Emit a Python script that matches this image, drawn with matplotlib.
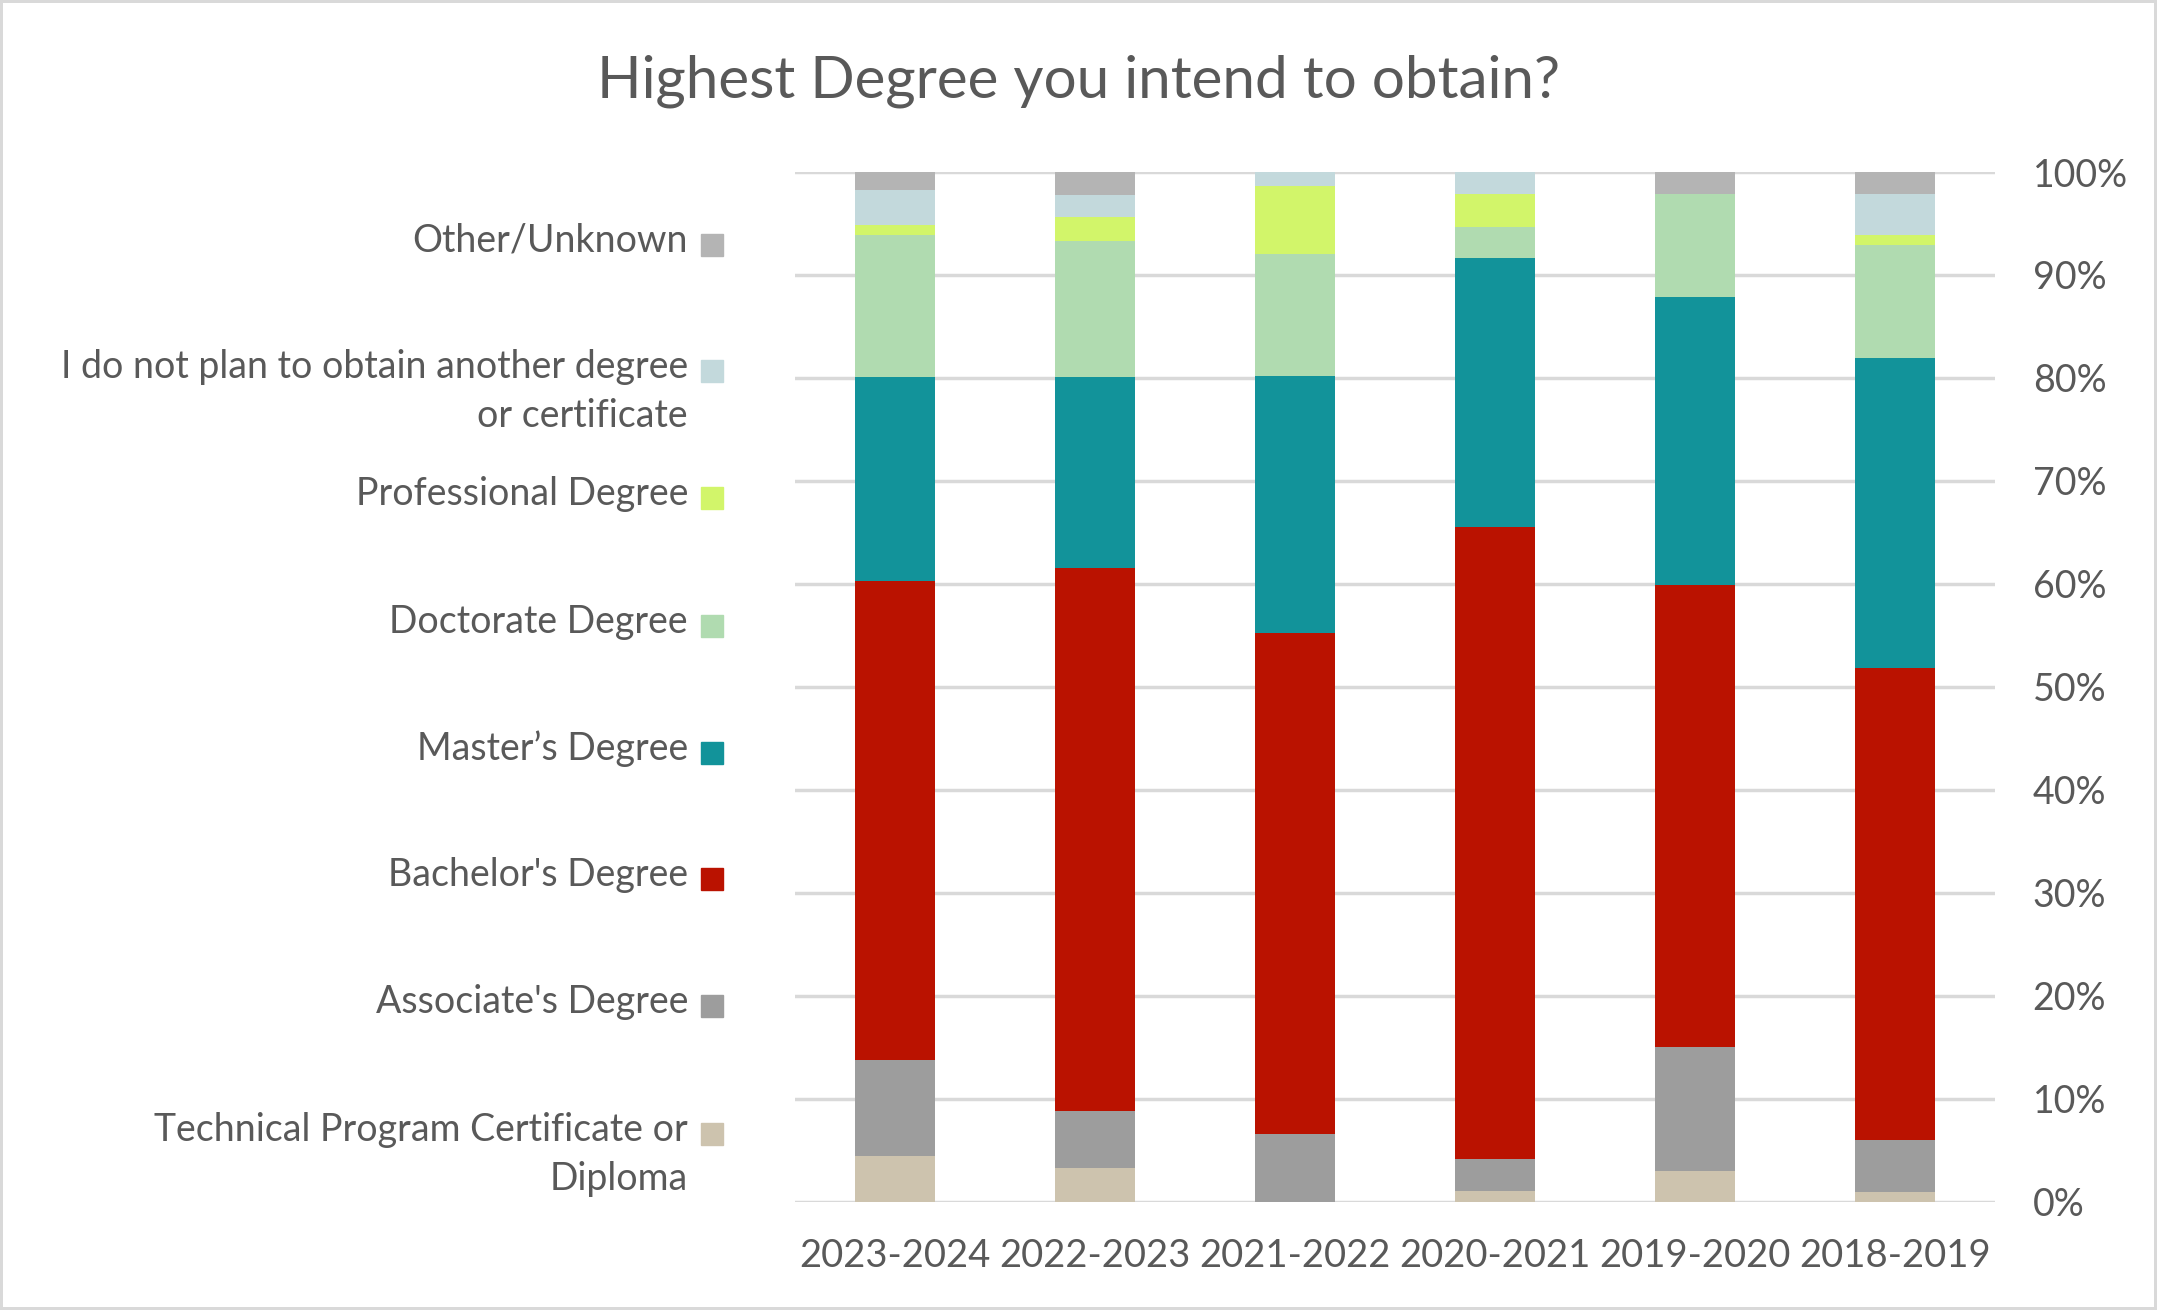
import numpy as np
import matplotlib
matplotlib.use("Agg")
import matplotlib.pyplot as plt
from matplotlib.patches import Rectangle

plt.rcParams['font.family'] = ['Lato', 'DejaVu Sans']

# datos (porcentajes), en orden cronologico
years = ["2018-2019", "2019-2020", "2020-2021", "2021-2022", "2022-2023", "2023-2024"]

technical = [0.97, 3.0, 1.0, 0.0, 3.3, 4.4]
associate = [5.0, 12.0, 3.1, 6.6, 5.5, 9.4]
bachelor = [45.9, 44.9, 61.4, 48.6, 52.7, 46.5]
master = [30.1, 28.0, 26.1, 25.0, 18.6, 19.8]
doctorate = [10.9, 10.0, 3.1, 11.8, 13.2, 13.8]
professional = [1.0, 0.0, 3.2, 6.6, 2.3, 1.0]
no_plan = [4.0, 0.0, 2.1, 1.4, 2.2, 3.4]
other = [2.1, 2.1, 0.0, 0.0, 2.3, 1.8]

series_names = ["Technical Program Certificate or\nDiploma", "Associate's Degree",
                "Bachelor's Degree", "Master\u2019s Degree", "Doctorate Degree",
                "Professional Degree", "I do not plan to obtain another degree\nor certificate",
                "Other/Unknown"]
series_vals = [technical, associate, bachelor, master, doctorate, professional, no_plan, other]
colores = ["#CDC3AE", "#9D9D9D", "#BA1200", "#12939A", "#B0DBB0", "#D2F56A", "#C3D9DC", "#B4B4B4"]

yticks = [0, 10, 20, 30, 40, 50, 60, 70, 80, 90, 100]

txt_col = "#595959"

fig = plt.figure(figsize=(21.57, 13.1), dpi=100)
fig.patch.set_edgecolor("#D9D9D9")
fig.patch.set_linewidth(3)
ax = fig.add_axes([0.3686, 0.0827, 0.5564, 0.786])

x = np.arange(len(years))
base = np.zeros(len(years))
for nombre, vals, c in zip(series_names, series_vals, colores):
    vals = np.array(vals)
    ax.bar(x, vals, bottom=base, width=0.4, color=c, zorder=3)
    base += vals

ax.set_xlim(-0.5, len(years) - 0.5)
ax.invert_xaxis()  # la imagen viene espejada
ax.set_ylim(0, 100)
ax.set_xticks(x)
ax.set_xticklabels(years, fontsize=27.5)
ax.set_yticks(yticks)
ax.set_yticklabels([f"{v}%" for v in yticks], fontsize=27)
ax.yaxis.tick_right()
ax.tick_params(axis='both', length=0, colors=txt_col)
ax.tick_params(axis='y', pad=27)
ax.tick_params(axis='x', pad=26)
ax.grid(axis='y', color="#D9D9D9", lw=2.5, zorder=0)
for s in ax.spines.values():
    s.set_visible(False)

fig.text(0.5, 0.938, "Highest Degree you intend to obtain?", ha='center', va='center',
         fontsize=42, color=txt_col)

# leyenda a mano (marcador a la derecha del texto)
leg_y = [1133.5, 1005.6, 879, 752.5, 625.9, 498, 371.4, 244.9]
for nombre, c, yp in zip(series_names, colores, leg_y):
    yc = 1 - yp / 1310
    fig.patches.append(Rectangle((701 / 2157, yc - 11 / 1310), 22 / 2157, 22 / 1310,
                                 transform=fig.transFigure, color=c, figure=fig))
    fig.text(688 / 2157, yc + 22 / 1310, nombre, ha='right', va='top', multialignment='right',
             fontsize=27, color=txt_col, linespacing=1.45)

fig.savefig("out.png", dpi=100, edgecolor=fig.get_edgecolor())
